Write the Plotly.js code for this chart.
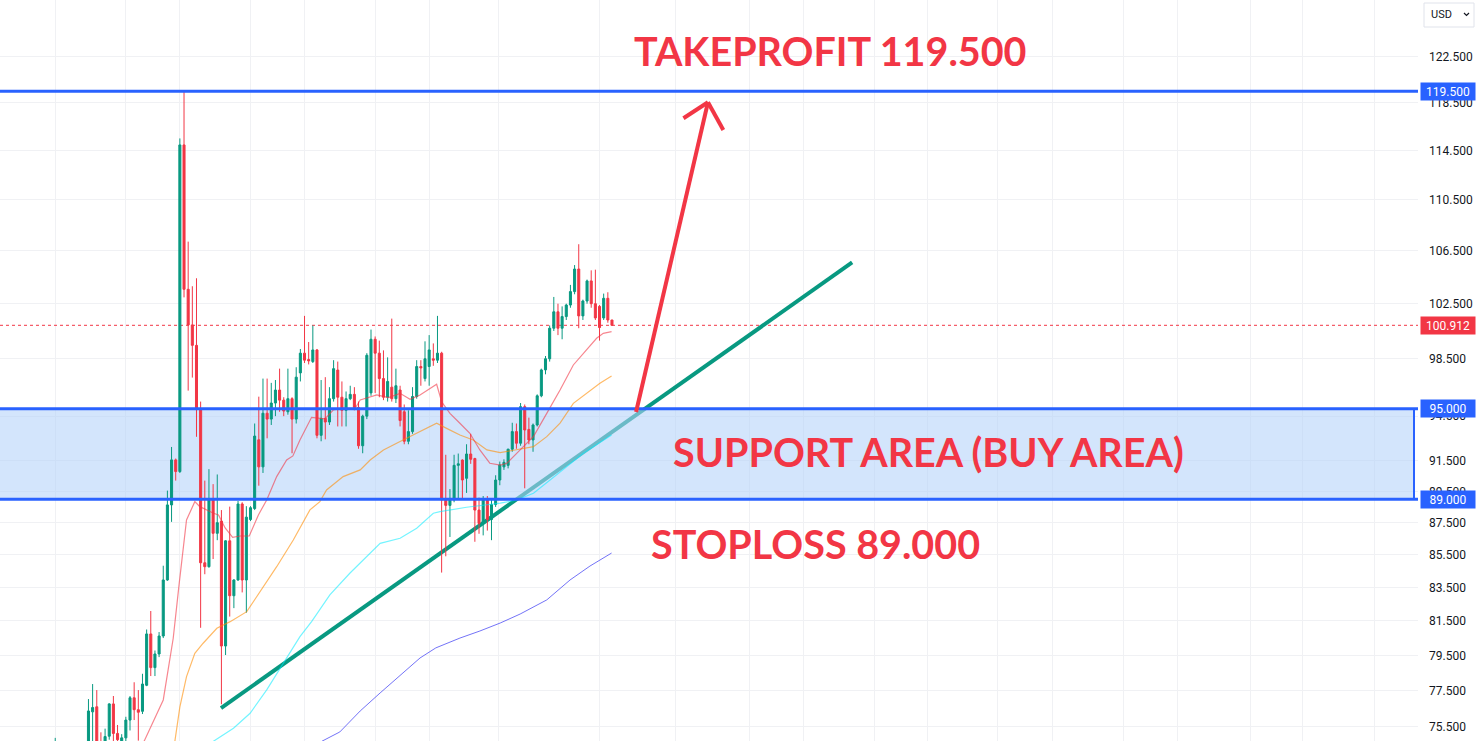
<!DOCTYPE html>
<html><head><meta charset="utf-8">
<script src="https://cdn.plot.ly/plotly-3.0.1.min.js"></script>
<style>html,body{margin:0;padding:0;background:#fff;overflow:hidden}#chart{width:1476px;height:741px}</style>
</head><body><div id="chart"></div>
<script>
// ---- candle data (index = bar number) ----
const opens  = [73.6,74.2,73.4,73.8,73.3,74.0,73.6,74.1,74.4,76.32,76.6,74.4,74.2,74.99,76.76,75.14,74.7,74.9,75.87,77.1,76.44,76.35,77.8,80.74,78.8,79.58,80.62,83.95,88.63,91.56,90.79,114.96,103.57,100.94,99.46,94.95,85.0,84.76,89.0,86.83,87.6,80.04,86.36,83.0,83.95,88.69,83.95,87.7,88.4,92.9,91.1,94.7,94.3,95.4,96.3,95.6,94.8,95.7,94.3,97.5,98.9,98.45,98.3,99.13,93.2,94.35,94.1,95.7,97.7,95.8,94.9,95.7,96.0,95.1,92.5,94.5,96.1,99.9,98.9,97.1,95.8,96.5,95.7,96.3,94.8,92.8,93.45,95.85,97.95,97.1,97.95,98.5,98.4,98.9,88.95,88.6,88.95,91.2,91.55,90.35,91.95,91.65,88.3,87.45,89.0,87.7,88.65,90.24,91.1,91.2,92.27,93.45,92.67,95.15,93.6,92.89,93.9,95.9,97.71,98.5,100.7,101.9,100.7,101.55,102.4,103.4,105.1,101.6,102.7,104.2,102.5,102.3,101.45,102.9,101.3];
const highs  = [74.9,74.5,74.0,74.4,74.2,74.5,74.3,74.6,77.03,77.87,77.53,75.2,75.4,76.8,77.2,75.6,75.1,76.05,77.2,77.97,77.53,78.45,81.0,82.09,79.78,80.85,84.82,89.55,92.42,91.65,115.5,119.45,107.2,103.8,104.4,95.5,90.2,90.95,89.97,90.6,88.3,86.4,88.52,84.0,88.88,88.8,88.55,88.55,94.0,95.84,97.1,97.1,96.8,97.0,97.8,95.8,97.8,95.8,97.9,99.2,101.6,99.7,100.9,99.2,97.0,97.2,96.5,98.4,98.3,96.9,96.2,96.6,96.5,95.5,94.6,98.9,100.6,100.1,99.8,99.1,98.6,101.4,97.8,96.6,95.3,94.9,96.5,98.4,98.4,99.75,100.2,99.6,101.6,99.0,91.9,89.65,91.9,91.98,91.6,92.6,93.3,91.7,89.1,89.2,89.2,89.0,90.55,91.45,91.6,92.3,94.05,94.0,95.4,95.3,94.4,94.0,96.0,97.8,98.7,100.9,103.0,102.5,102.3,102.5,103.9,105.4,107.0,102.8,104.3,105.0,105.05,102.4,103.25,103.35,101.3];
const lows   = [73.0,73.0,72.6,73.1,72.9,73.4,73.0,73.5,74.1,74.5,73.9,73.8,73.9,74.8,74.7,74.6,74.4,74.7,75.3,75.87,74.75,76.2,77.75,78.32,78.32,79.4,80.5,83.9,87.55,90.2,90.7,102.97,96.26,97.17,93.1,81.1,84.3,84.7,85.23,86.4,76.74,79.52,81.76,82.26,83.9,83.2,81.99,87.6,88.3,89.87,90.7,93.0,93.9,94.5,94.8,94.5,94.6,92.0,94.0,96.9,98.2,98.1,98.2,93.0,92.8,92.93,93.9,95.5,93.8,93.8,93.8,95.6,94.9,92.3,92.0,94.3,95.9,96.1,95.8,95.6,95.5,95.5,95.4,93.8,92.6,92.6,93.3,95.7,96.6,96.9,96.6,98.0,98.2,84.4,85.4,86.6,88.8,89.0,89.0,89.4,91.3,86.3,86.8,86.7,87.0,86.4,88.5,89.9,90.9,91.0,92.1,92.3,92.5,89.7,92.6,92.1,93.8,95.8,97.4,98.3,100.5,100.2,99.9,101.3,102.2,103.2,100.7,101.3,102.5,102.2,101.3,99.8,101.3,101.1,100.9];
const closes = [74.2,73.4,73.8,73.3,74.0,73.6,74.1,74.4,76.37,76.56,74.4,74.2,74.97,76.76,75.14,74.8,74.9,75.87,77.1,76.44,76.3,77.87,80.74,78.8,79.58,80.62,83.95,88.63,91.56,90.79,114.96,103.57,100.94,99.46,94.95,85.0,84.76,89.0,86.83,87.5,80.04,86.36,83.0,83.95,88.69,83.95,87.85,88.45,93.15,91.1,94.7,94.3,95.4,96.3,95.6,94.85,95.7,94.3,97.2,98.9,98.4,98.35,99.13,93.2,94.35,94.1,95.7,97.8,95.8,94.9,95.7,96.0,95.1,92.5,94.5,98.75,99.9,98.9,97.1,95.8,96.9,95.7,96.6,94.2,92.8,93.45,95.85,97.95,97.85,98.5,99.13,98.4,98.9,88.95,88.6,88.95,91.2,91.3,90.24,91.95,91.6,88.3,87.45,89.0,87.7,88.65,90.24,91.23,91.4,92.27,93.45,92.67,95.15,93.56,92.89,93.9,95.9,97.71,98.5,100.7,101.9,100.7,101.55,102.4,103.4,105.1,101.6,102.7,104.2,102.5,101.45,100.75,102.9,101.3,100.91];

// ---- moving averages (bar index, value) ----
const maRedIdx = [20,21.4,26.0,28.4,29.8,31.6,33.6,34.8,38.1,39.3,40.9,42.7,44.5,46.7,48.9,50.9,53.3,55.7,57.2,58.9,61.7,64.9,66.9,69.3,72.2,73.4,77.4,80.2,83.0,85.4,87.8,91.8,93.0,95.0,97.4,99.8,102.2,104.6,107.1,108.7,111.9,115.1,118.3,121.5,124.7,127.9,130.3,131.9,133.9];
const maRedVal = [74.3,74.72,76.98,80.49,83.65,87.67,88.84,88.52,88.1,87.99,87.17,86.58,86.66,86.66,87.99,88.95,90.46,91.55,91.82,92.89,94.42,94.31,94.92,95.04,95.04,95.61,95.96,95.77,96.07,95.66,95.96,96.7,95.49,94.69,94.02,93.34,92.22,91.34,91.22,91.34,92.22,93.12,94.69,96.3,98.06,99.13,99.97,100.33,100.45];
const maOrangeIdx = [27.5,28.8,30.0,31.6,33.6,35.6,38.9,42.1,46.1,49.3,53.3,57.3,61.3,63.7,65.3,69.3,73.4,75.8,79.0,83.0,87.0,91.8,94.2,97.4,100.6,103.9,107.1,111.1,115.1,118.3,121.5,124.7,127.9,131.1,133.9];
const maOrangeVal = [74.2,74.72,76.6,78.29,79.62,80.2,81.07,81.46,82.05,83.25,84.76,86.41,88.31,88.84,89.59,90.46,90.9,91.55,92.22,92.78,93.34,94.02,93.67,93.22,92.89,92.22,92.04,92.22,92.44,93.11,94.02,95.38,96.07,96.77,97.28];
const maCyanIdx = [37.0,38.1,42.9,46.9,50.9,54.9,58.9,61.7,66.1,70.9,74.1,78.2,83.0,87.0,91.0,92.6,99.0,107.1,111.1,115.1,119.1,123.1,127.1,133.9];
const maCyanVal = [74.4,74.72,75.42,76.24,77.54,79.04,80.58,81.46,83.05,84.36,85.17,86.2,86.52,87.15,88.1,88.2,88.48,88.74,88.95,89.38,90.24,91.12,92.0,93.22];
const maBlueIdx = [63.0,64.2,68.5,73.4,78.2,83.0,87.8,91.6,97.4,102.2,107.1,111.9,118.3,123.9,128.7,133.9];
const maBlueVal = [74.5,74.72,75.22,76.37,77.37,78.38,79.35,79.93,80.5,80.91,81.38,81.91,82.75,83.95,84.8,85.6];

// ---- axis ticks / levels ----
const tickPrices = [75.5,77.5,79.5,81.5,83.5,85.5,87.5,89.5,91.5,94.5,98.5,102.5,106.5,110.5,114.5,118.5,122.5];
const tickLabels = tickPrices.map(v => v.toFixed(3));
const timeGridIdx = [0,17,30,47.1,59.9,77.2,90,106.8,130.9,149.2,167,180,197.3,210,226.9,240.1,257.2,270.2,287.6,300.3,317.6];
const priceLow = 74.73, priceHigh = 127.65;
const idxLow = -13.29, idxHigh = 327.99;
const zoneRightIdx = 327.03;
const takeProfit = 119.5, supportTop = 95.0, stopLoss = 89.0, lastPrice = 100.912;

// drawings (bar index, price)
const trendIdx = [39.9, 191.8];
const trendPrice = [76.53, 105.6];
const arrowIdx = [139.8, 157.1];
const arrowPrice = [94.78, 118.56];
const arrowHeadLeft = [151.2, 117.2];
const arrowHeadRight = [160.8, 116.2];

const UP = '#089981', DOWN = '#f23645', BLUE = '#2962ff';
const idx = opens.map((_, i) => i);

const traces = [
  {type:'candlestick', x: idx, open: opens, high: highs, low: lows, close: closes,
   increasing:{line:{color:UP, width:1}, fillcolor:UP},
   decreasing:{line:{color:DOWN, width:1}, fillcolor:DOWN},
   whiskerwidth:0, hoverinfo:'skip'},
  {type:'scatter', mode:'lines', x: maBlueIdx, y: maBlueVal, line:{color:'rgba(80,80,245,0.8)', width:1}, hoverinfo:'skip'},
  {type:'scatter', mode:'lines', x: maCyanIdx, y: maCyanVal, line:{color:'rgba(0,235,255,0.55)', width:1.2}, hoverinfo:'skip'},
  {type:'scatter', mode:'lines', x: maOrangeIdx, y: maOrangeVal, line:{color:'rgba(255,140,0,0.6)', width:1.2}, hoverinfo:'skip'},
  {type:'scatter', mode:'lines', x: maRedIdx, y: maRedVal, line:{color:'rgba(242,54,69,0.6)', width:1.2}, hoverinfo:'skip'}
];

const rectRight = 1414/1418;
const shapes = [
  {type:'line', xref:'x', yref:'y', x0:idxLow, x1:idxHigh, y0:lastPrice, y1:lastPrice, line:{color:DOWN, width:1, dash:'dot'}, layer:'between'},
  {type:'line', xref:'x', yref:'y', x0:trendIdx[0], y0:trendPrice[0], x1:trendIdx[1], y1:trendPrice[1], line:{color:UP, width:4}, layer:'between'},
  {type:'rect', xref:'x', yref:'y', x0:idxLow, x1:zoneRightIdx, y0:stopLoss, y1:supportTop, fillcolor:'rgba(180,210,250,0.58)', line:{width:0}, layer:'between'},
  {type:'line', xref:'paper', yref:'y', x0:rectRight, x1:rectRight, y0:stopLoss, y1:supportTop, line:{color:BLUE, width:2}, layer:'above'},
  {type:'line', xref:'paper', yref:'y', x0:0, x1:1, y0:supportTop, y1:supportTop, line:{color:BLUE, width:3}, layer:'above'},
  {type:'line', xref:'paper', yref:'y', x0:0, x1:1, y0:stopLoss, y1:stopLoss, line:{color:BLUE, width:3}, layer:'above'},
  {type:'line', xref:'paper', yref:'y', x0:0, x1:1, y0:takeProfit, y1:takeProfit, line:{color:BLUE, width:3}, layer:'above'},
  {type:'line', xref:'x', yref:'y', x0:arrowIdx[0], y0:arrowPrice[0], x1:arrowIdx[1], y1:arrowPrice[1], line:{color:DOWN, width:4}, layer:'above'},
  {type:'line', xref:'x', yref:'y', x0:arrowIdx[1], y0:arrowPrice[1], x1:arrowHeadLeft[0], y1:arrowHeadLeft[1], line:{color:DOWN, width:4}, layer:'above'},
  {type:'line', xref:'x', yref:'y', x0:arrowIdx[1], y0:arrowPrice[1], x1:arrowHeadRight[0], y1:arrowHeadRight[1], line:{color:DOWN, width:4}, layer:'above'},
  // currency box
  {type:'rect', xref:'paper', yref:'paper', x0:1424/1418, x1:1474/1418, y0:1-27/741, y1:1-3/741, line:{color:'#e0e3eb', width:1}, fillcolor:'#ffffff', layer:'above'},
  {type:'path', xref:'paper', yref:'paper', path:`M ${1464/1418} ${1-13/741} L ${1466.5/1418} ${1-15.5/741} L ${1469/1418} ${1-13/741}`, line:{color:'#131722', width:1.2}, layer:'above'}
];

const bigFont = {family:'Lato, "Noto Sans", sans-serif', size:39.5, color:DOWN};
function priceTag(p, color, txt){
  return {xref:'paper', yref:'y', x:1, y:Math.log10(p), xanchor:'left', yanchor:'middle', xshift:2,
    text:txt, showarrow:false, bgcolor:color, width:48, height:11, borderpad:3,
    font:{family:'Roboto, sans-serif', size:12, color:'#ffffff'}};
}
const annotations = [
  {xref:'paper', yref:'paper', x:632/1418, y:1-51/741, xanchor:'left', yanchor:'middle', text:'<b>TAKEPROFIT 119.500</b>', showarrow:false, font:bigFont},
  {xref:'paper', yref:'paper', x:671/1418, y:1-451/741, xanchor:'left', yanchor:'middle', text:'<b>SUPPORT AREA (BUY AREA)</b>', showarrow:false, font:bigFont},
  {xref:'paper', yref:'paper', x:649/1418, y:1-543/741, xanchor:'left', yanchor:'middle', text:'<b>STOPLOSS 89.000</b>', showarrow:false, font:bigFont},
  priceTag(takeProfit, BLUE, takeProfit.toFixed(3)),
  priceTag(lastPrice, DOWN, lastPrice.toFixed(3)),
  priceTag(supportTop, BLUE, supportTop.toFixed(3)),
  priceTag(stopLoss, BLUE, stopLoss.toFixed(3)),
  {xref:'paper', yref:'paper', x:1429/1418, y:1-15/741, xanchor:'left', yanchor:'middle', text:'USD', showarrow:false,
   font:{family:'Roboto, sans-serif', size:11, color:'#131722'}}
];

const layout = {
  width:1476, height:741,
  margin:{l:0, r:58, t:0, b:0, pad:0},
  paper_bgcolor:'#ffffff', plot_bgcolor:'#ffffff',
  showlegend:false,
  xaxis:{range:[idxLow, idxHigh], tickvals:timeGridIdx, showticklabels:false, ticks:'',
         showgrid:true, gridcolor:'#f0f1f4', gridwidth:1, zeroline:false, showline:false,
         rangeslider:{visible:false}, fixedrange:true},
  yaxis:{type:'log', side:'right', range:[Math.log10(priceLow), Math.log10(priceHigh)],
         tickvals:tickPrices, ticktext:tickLabels, ticks:'', ticklabelstandoff:10,
         showgrid:true, gridcolor:'#f0f1f4', gridwidth:1, zeroline:false, showline:false,
         tickfont:{family:'Roboto, sans-serif', size:12, color:'#131722'}, fixedrange:true},
  shapes: shapes,
  annotations: annotations
};

Plotly.newPlot('chart', traces, layout, {staticPlot:true, displayModeBar:false});
</script>
</body></html>
